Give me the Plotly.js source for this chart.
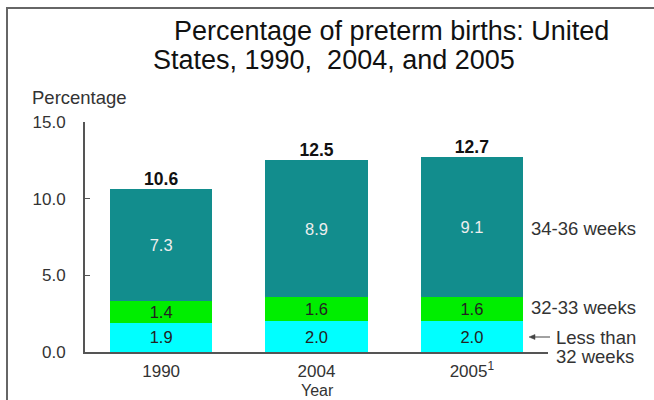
<!DOCTYPE html>
<html>
<head>
<meta charset="utf-8">
<script src="https://cdn.plot.ly/plotly-3.0.1.min.js"></script>
<style>
  html, body { margin: 0; padding: 0; background: #fff; }
  #chart { width: 654px; height: 400px; }
</style>
</head>
<body>
<div id="chart"></div>
<script>
// Preterm births by gestational age group, percent of live births
const years = ['1990', '2004', '2005<sup>1</sup>'];
const under32 = [1.9, 2.0, 2.0];     // Less than 32 weeks
const weeks32to33 = [1.4, 1.6, 1.6]; // 32-33 weeks
const weeks34to36 = [7.3, 8.9, 9.1]; // 34-36 weeks
const yTicks = [0, 5, 10, 15];
const yTickText = ['0.0', '5.0', '10.0', '15.0'];

const totals = years.map((_, i) =>
  Math.round((under32[i] + weeks32to33[i] + weeks34to36[i]) * 10) / 10);

const FONT = 'Arial, "Liberation Sans", sans-serif';
const TXT = '#333333';

function seg(values, color, textColor) {
  return {
    type: 'bar',
    x: years,
    y: values,
    marker: { color: color, line: { width: 0 } },
    text: values.map(v => v.toFixed(1)),
    textposition: 'inside',
    insidetextanchor: 'middle',
    constraintext: 'none',
    textfont: { family: FONT, size: 16.5, color: textColor },
    hoverinfo: 'skip',
    showlegend: false
  };
}

const data = [
  seg(under32, '#00FFFF', '#222222'),
  seg(weeks32to33, '#00EE00', '#222222'),
  seg(weeks34to36, '#128D8D', '#EEEEEE'),
  {
    type: 'scatter',
    mode: 'text',
    x: years,
    y: totals,
    text: totals.map(v => '<b>' + v.toFixed(1) + '</b>'),
    textposition: 'top center',
    textfont: { family: FONT, size: 17.5, color: '#111111' },
    hoverinfo: 'skip',
    showlegend: false,
    cliponaxis: false
  }
];

// plot area spans x 85..548 px and y 122..352 px
const L = 85, R = 548, T = 122, B = 352;
const px = x => (x - L) / (R - L);
const py = y => (B - y) / (B - T);

function label(text, x, y, size, color) {
  return {
    text: text, xref: 'paper', yref: 'paper', x: px(x), y: py(y),
    xanchor: 'left', yanchor: 'middle', showarrow: false,
    font: { family: FONT, size: size, color: color || TXT }
  };
}

const layout = {
  width: 654,
  height: 400,
  margin: { l: L, r: 654 - R, t: T, b: 400 - B, pad: 0 },
  paper_bgcolor: '#ffffff',
  plot_bgcolor: '#ffffff',
  barmode: 'stack',
  bargap: 0.34,
  font: { family: FONT, color: TXT },
  xaxis: {
    type: 'category',
    range: [-0.49, 2.49],
    showline: true,
    linecolor: '#555555',
    linewidth: 2,
    ticks: '',
    showgrid: false,
    zeroline: false,
    tickfont: { family: FONT, size: 17, color: TXT },
    ticklabelstandoff: 3
  },
  yaxis: {
    range: [0, 15],
    tickvals: yTicks,
    ticktext: yTickText,
    showline: true,
    linecolor: '#555555',
    linewidth: 2,
    ticks: 'inside',
    ticklen: 5,
    tickwidth: 1.5,
    tickcolor: '#555555',
    showgrid: false,
    zeroline: false,
    tickfont: { family: FONT, size: 17, color: TXT },
    ticklabelstandoff: 14
  },
  shapes: [
    {
      // outer frame
      type: 'rect', xref: 'paper', yref: 'paper',
      x0: px(7), x1: px(670), y0: py(420), y1: py(8),
      line: { color: '#666666', width: 2 }, fillcolor: 'rgba(0,0,0,0)',
      layer: 'below'
    },
    {
      // pointer toward the lowest segment
      type: 'line', xref: 'paper', yref: 'paper',
      x0: px(533), x1: px(550), y0: py(337), y1: py(337),
      line: { color: '#444444', width: 1 }
    },
    {
      type: 'path', xref: 'paper', yref: 'paper',
      path: 'M ' + px(529) + ' ' + py(337) + ' L ' + px(535) + ' ' + py(334.5) +
            ' L ' + px(535) + ' ' + py(339.5) + ' Z',
      line: { color: '#444444', width: 0.5 }, fillcolor: '#444444'
    }
  ],
  annotations: [
    label('Percentage of preterm births: United', 172, 31, 27, '#111111'),
    label('States, 1990,  2004, and 2005', 151, 60, 27, '#111111'),
    label('Percentage', 30, 98, 18.5),
    label('34-36 weeks', 529, 228, 18.5),
    label('32-33 weeks', 529, 307, 18.5),
    label('Less than', 554, 337, 18.5),
    label('32 weeks', 554, 356, 18.5),
    {
      text: 'Year', xref: 'paper', yref: 'paper', x: px(317), y: py(390.5),
      xanchor: 'center', yanchor: 'middle', showarrow: false,
      font: { family: FONT, size: 16, color: TXT }
    }
  ]
};

Plotly.newPlot('chart', data, layout, { displayModeBar: false, staticPlot: true });
</script>
</body>
</html>
